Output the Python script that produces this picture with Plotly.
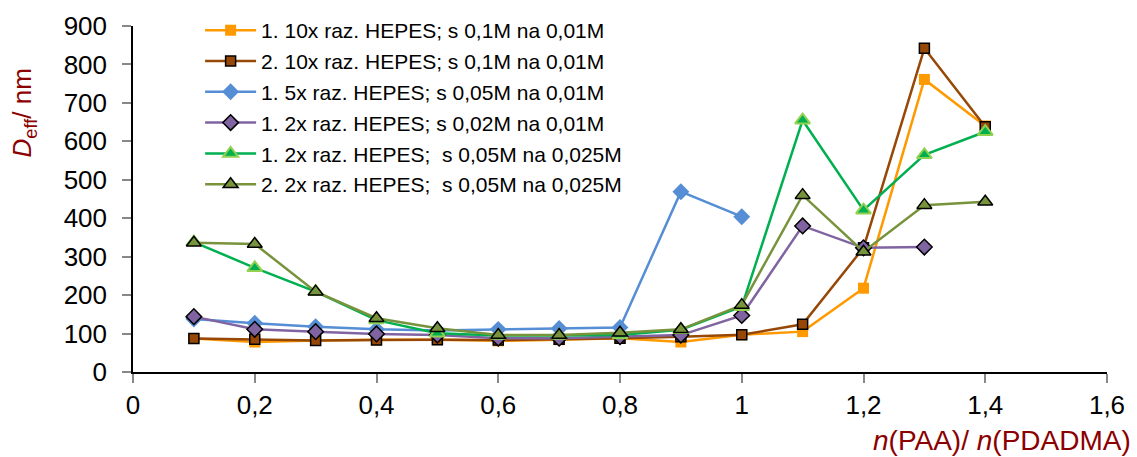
import plotly.graph_objects as go

# Molar ratio n(PAA)/n(PDADMA)
ratio = [0.1, 0.2, 0.3, 0.4, 0.5, 0.6, 0.7, 0.8, 0.9, 1.0, 1.1, 1.2, 1.3, 1.4]

# Effective diameter D_eff / nm for each measurement series
s1_10x = [87, 78, 82, 84, 84, 81, 84, 88, 78, 97, 105, 218, 761, 640]
s2_10x = [87, 85, 82, 83, 84, 83, 85, 88, 92, 97, 124, 323, 842, 638]
s1_5x = [138, 127, 118, 111, 108, 111, 113, 116, 469, 404, None, None, None, None]
s1_2x_002 = [144, 111, 105, 99, 96, 88, 88, 92, 96, 147, 380, 323, 325, None]
s1_2x_005 = [338, 271, 209, 135, 101, 95, 95, 96, 110, 170, 655, 421, 565, 625]
s2_2x_005 = [336, 333, 209, 140, 114, 96, 96, 102, 111, 174, 460, 313, 434, 443]

series_names = [
    "1. 10x raz. HEPES; s 0,1M na 0,01M",
    "2. 10x raz. HEPES; s 0,1M na 0,01M",
    "1. 5x raz. HEPES; s 0,05M na 0,01M",
    "1. 2x raz. HEPES; s 0,02M na 0,01M",
    "1. 2x raz. HEPES;  s 0,05M na 0,025M",
    "2. 2x raz. HEPES;  s 0,05M na 0,025M",
]

styles = [
    dict(color="#FF9900", symbol="square", size=11, mline="#FF9900", mlw=0),
    dict(color="#974806", symbol="square", size=10, mline="#000000", mlw=1.5),
    dict(color="#558ED5", symbol="diamond", size=13, mline="#558ED5", mlw=0),
    dict(color="#8064A2", symbol="diamond", size=12, mline="#000000", mlw=1.5),
    dict(color="#00B050", symbol="triangle-up", size=13, mline="#92D050", mlw=2),
    dict(color="#77933C", symbol="triangle-up", size=13, mline="#000000", mlw=1.5),
]

values = [s1_10x, s2_10x, s1_5x, s1_2x_002, s1_2x_005, s2_2x_005]

fig = go.Figure()
for i, (name, ys, st) in enumerate(zip(series_names, values, styles)):
    fig.add_trace(go.Scatter(
        x=ratio, y=ys, name=name, mode="lines+markers",
        legendgroup=f"g{i}",
        connectgaps=False,
        line=dict(color=st["color"], width=2.5),
        marker=dict(symbol=st["symbol"], size=st["size"], color=st["color"],
                    line=dict(color=st["mline"], width=st["mlw"])),
    ))

font_family = "Arial, Liberation Sans, sans-serif"
title_color = "#8B0000"

axis_common = dict(
    showline=True, linecolor="#000000", linewidth=1.5,
    ticks="outside", ticklen=9, tickcolor="#888888", tickwidth=1.5,
    showgrid=False, zeroline=False,
    tickfont=dict(size=26, color="#000000"),
)

fig.update_layout(
    width=1137, height=457,
    margin=dict(l=133, r=30, t=26, b=85, autoexpand=False),
    paper_bgcolor="white", plot_bgcolor="white",
    separators=", ",
    font=dict(family=font_family, size=21, color="#000000"),
    showlegend=True,
    legend=dict(
        xref="container", yref="container",
        x=0.176, y=0.978, xanchor="left", yanchor="top",
        font=dict(size=21, color="#000000"),
        bgcolor="rgba(0,0,0,0)", tracegroupgap=0.5,
        itemwidth=51,
    ),
    xaxis=dict(range=[0, 1.6], dtick=0.2, tick0=0, **axis_common),
    yaxis=dict(range=[0, 900], dtick=100, tick0=0, ticklabelstandoff=10,
               **axis_common),
)

fig.add_annotation(
    text="<i>D</i><sub>eff</sub>/ nm", textangle=-90,
    xref="paper", yref="paper", x=-0.112, y=0.75,
    xanchor="center", yanchor="middle", showarrow=False,
    font=dict(size=26, color=title_color, family=font_family),
)
fig.add_annotation(
    text="<i>n</i>(PAA)/ <i>n</i>(PDADMA)",
    xref="paper", yref="paper", x=1.027, y=-0.199,
    xanchor="right", yanchor="middle", showarrow=False,
    font=dict(size=28, color=title_color, family=font_family),
)

fig.write_html("out.html")
